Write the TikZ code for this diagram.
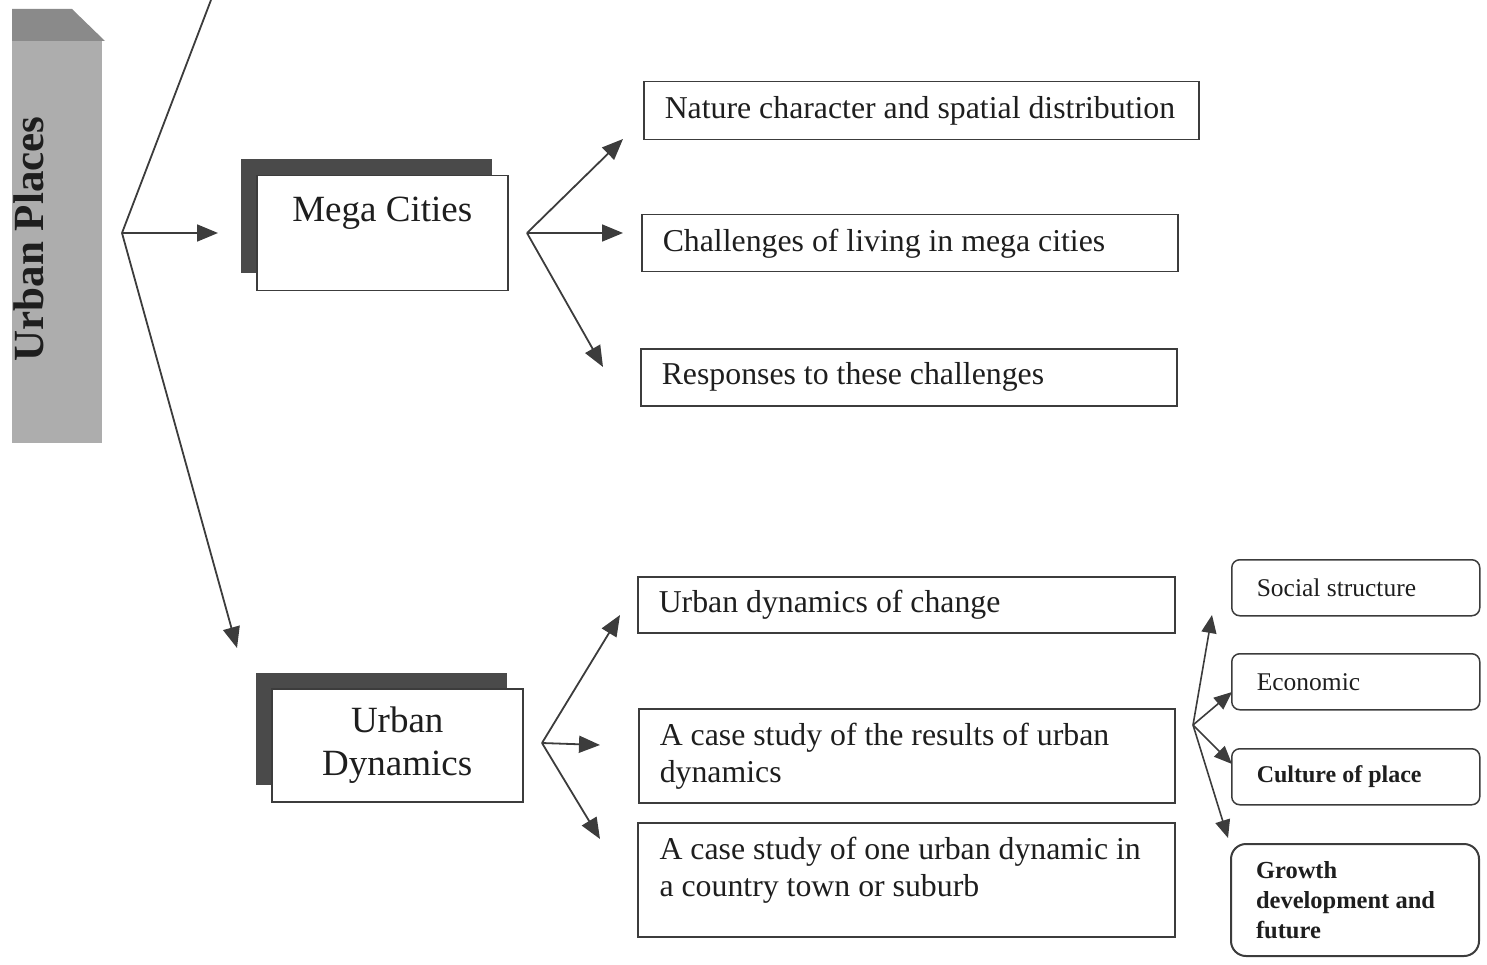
\documentclass[tikz,border=0pt]{standalone}
\usepackage{fontspec}
\setmainfont{Liberation Serif}
\usetikzlibrary{arrows.meta}
\definecolor{linegray}{HTML}{3C3C3C}
\definecolor{inkgray}{HTML}{1E1E1E}
\definecolor{barbody}{HTML}{ADADAD}
\definecolor{bartop}{HTML}{8A8A8A}
\definecolor{shadowgray}{HTML}{4A4A4A}
\tikzset{
	bigbox/.style={draw=linegray, line width=1.5pt, anchor=north west, inner xsep=21pt,
		align=flush left, text=inkgray, font=\fontsize{31.8}{37}\selectfont},
	smallbox/.style={draw=linegray, line width=1.5pt, rounded corners=8pt, anchor=north west,
		inner xsep=25pt, align=flush left, text=inkgray, font=\fontsize{25.5}{30}\selectfont,
		minimum width=248pt, text width=198pt},
	topicbox/.style={draw=linegray, line width=1.5pt, fill=white, anchor=north west,
		minimum width=251pt, text=inkgray},
	shadowbox/.style={fill=shadowgray, anchor=north west, minimum width=251pt, inner sep=0pt},
	arr/.style={draw=linegray, line width=1.8pt, -{Triangle[length=21pt,width=17pt]}},
	smallarr/.style={draw=linegray, line width=1.6pt, -{Triangle[length=18pt,width=15pt]}}
}
\begin{document}
\begin{tikzpicture}[x=1pt, y=-1pt]
		\useasboundingbox (0, 0) rectangle (1487, 965);

		% side bar
		\fill[barbody] (12, 40) rectangle (102, 443);
		\fill[bartop] (12, 9) -- (72, 9) -- (105, 41) -- (12, 41) -- cycle;
		\node[rotate=90, anchor=base, text=inkgray, font=\fontsize{43}{43}\selectfont\bfseries] (places) at (43, 239) {Urban Places};

		% hubs and free ends
		\coordinate (mainhub) at (122, 233);
		\coordinate (offtop) at (211, 0);
		\coordinate (megahub) at (527, 233);
		\coordinate (dynhub) at (542, 743);
		\coordinate (subhub) at (1193, 725);
		\coordinate (megatip) at (218, 233);
		\coordinate (dyntip) at (237, 648);
		\coordinate (natip) at (623, 139);
		\coordinate (chtip) at (623, 233);
		\coordinate (retip) at (603, 367);
		\coordinate (changetip) at (620, 615);
		\coordinate (resulttip) at (600, 745);
		\coordinate (onetip) at (600, 839);
		\coordinate (soctip) at (1212, 615);
		\coordinate (ecotip) at (1232, 692);
		\coordinate (cultip) at (1232, 764);
		\coordinate (growtip) at (1228, 838);

		% topic boxes with shadows
		\node[shadowbox, minimum height=114pt] (megashadow) at (241, 159) {};
		\node[topicbox, minimum height=115pt] (mega) at (256, 175) {};
		\node[anchor=north, text=inkgray, font=\fontsize{37}{43}\selectfont] (megatext) at ([yshift=-18pt]mega.north) {Mega Cities};

		\node[shadowbox, minimum height=112pt] (dynshadow) at (256, 673) {};
		\node[topicbox, minimum height=113pt, align=center, font=\fontsize{37}{43}\selectfont] (dyn) at (271, 688) {Urban\\Dynamics};

		% mega city boxes
		\node[bigbox, text width=513pt, minimum height=58pt] (nature) at (643, 81) {Nature character and spatial distribution};
		\node[bigbox, text width=494pt, minimum height=57pt] (challenge) at (641, 214) {Challenges of living in mega cities};
		\node[bigbox, text width=494pt, minimum height=57pt] (response) at (640, 348) {Responses to these challenges};

		% urban dynamics boxes
		\node[bigbox, text width=495pt, minimum height=56pt] (change) at (637, 576) {Urban dynamics of change};
		\node[bigbox, text width=494pt, minimum height=94pt] (result) at (638, 708) {A case study of the results of urban\\dynamics};
		\node[draw=linegray, line width=1.5pt, anchor=north west, minimum width=537pt, minimum height=114pt] (one) at (637, 822) {};
		\node[anchor=north west, align=left, text=inkgray, font=\fontsize{31.8}{37}\selectfont] (onetext) at ([xshift=19pt, yshift=-12pt]one.north west) {A case study of one urban dynamic in\\a country town or suburb};

		% small boxes
		\node[smallbox, minimum height=56pt] (social) at (1231, 559) {Social structure};
		\node[smallbox, minimum height=56pt] (economic) at (1231, 653) {Economic};
		\node[smallbox, minimum height=56pt, font=\fontsize{24}{30}\selectfont\bfseries] (culture) at (1231, 748) {Culture of place};
		\node[smallbox, minimum height=112pt, rounded corners=15pt, line width=2pt, font=\fontsize{24.5}{30}\selectfont\bfseries] (growth) at (1230, 843) {Growth\\development and\\future};

		% connectors
		\draw[draw=linegray, line width=1.8pt] (mainhub) -- (offtop);
		\draw[arr] (mainhub) -- (megatip);
		\draw[arr] (mainhub) -- (dyntip);

		\draw[arr] (megahub) -- (natip);
		\draw[arr] (megahub) -- (chtip);
		\draw[arr] (megahub) -- (retip);

		\draw[arr] (dynhub) -- (changetip);
		\draw[arr] (dynhub) -- (resulttip);
		\draw[arr] (dynhub) -- (onetip);

		\draw[smallarr] (subhub) -- (soctip);
		\draw[smallarr] (subhub) -- (ecotip);
		\draw[smallarr] (subhub) -- (cultip);
		\draw[smallarr] (subhub) -- (growtip);
	\end{tikzpicture}
\end{document}
